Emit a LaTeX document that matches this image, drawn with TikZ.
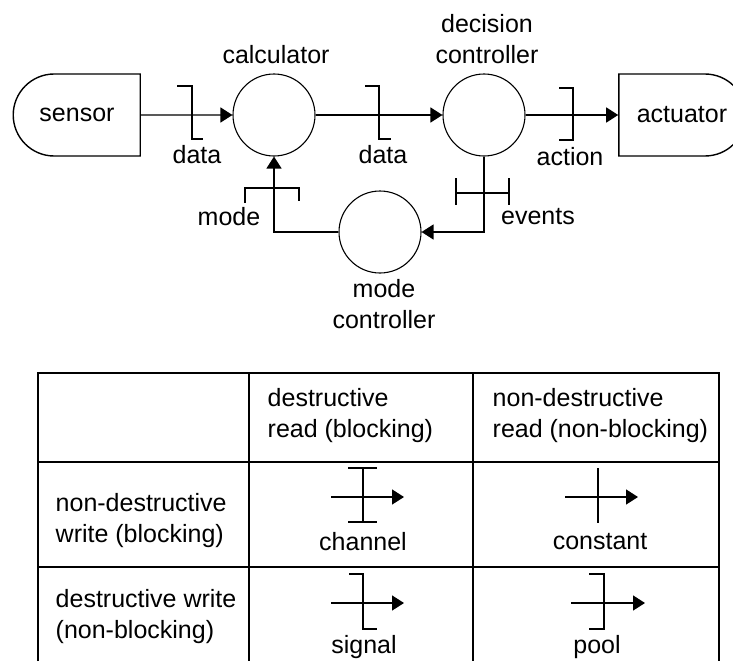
\documentclass[tikz,border=0pt]{standalone}
\usepackage{fontspec}
\setmainfont{Liberation Sans}
\usetikzlibrary{shapes.misc, arrows.meta, positioning, calc}

\begin{document}
\begin{tikzpicture}[x=1pt, y=-1pt,
                    line width=1.4pt,
                    font=\fontsize{25}{31}\selectfont,
                    process/.style={circle, draw, line width=1.1pt, minimum size=82pt, inner sep=0pt},
                    device/.style={rounded rectangle, draw, minimum height=82pt, minimum width=127pt, inner sep=0pt},
                    flow/.style={-{Triangle[length=12pt, width=15pt]}},
                    caption/.style={align=center, inner sep=0pt},
                    cell/.style={align=left, anchor=west, inner sep=0pt}]

    \useasboundingbox (0,0) rectangle (733,661);
    \clip (0,0) rectangle (733,661);

    % Main Nodes
    \node[device, rounded rectangle right arc=none] (sensor) at (77,115) {sensor};
    \node[process] (calculator) at (274,115) {};
    \node[process] (decision) at (484,115) {};
    \node[device, rounded rectangle left arc=none] (actuator) at (682,115) {actuator};
    \node[process] (mode) at (380,232) {};

    \node[caption] (calculatorlabel) at ($(calculator.north)+(2,-19)$) {calculator};
    \node[caption] (decisionlabel) at ($(decision.north)+(3,-34)$) {decision\\controller};
    \node[caption] (modelabel) at ($(mode.south)+(4,31)$) {mode\\controller};

    % Connecting lines
    \draw[flow] (sensor) -- (calculator);
    \draw[flow] (calculator) -- (decision);
    \draw[flow] (decision) -- (actuator);
    \draw[flow] (decision.south) |- (mode.east);
    \draw[flow] (mode.west) -| (calculator.south);

    % Marks on the connecting lines
    \coordinate (datamark1) at (192,115);
    \coordinate (datamark2) at (379,115);
    \coordinate (actionmark) at (573,115);
    \coordinate (modemark) at (273,188);
    \coordinate (eventsmark) at (483,193);

    \draw (datamark1) ++(-15,-29) -- ++(15,0) -- ++(0,53) -- ++(11,0);
    \draw (datamark2) ++(-14,-29) -- ++(14,0) -- ++(0,53) -- ++(12,0);
    \draw (actionmark) ++(-14,-27) -- ++(14,0) -- ++(0,52) -- ++(-14,0);
    \draw (modemark) ++(-28,15) -- ++(0,-15) -- ++(54,0) -- ++(0,13);
    \draw (eventsmark) ++(-27,0) -- ++(53,0);
    \draw (eventsmark) ++(-27,-15) -- ++(0,27);
    \draw (eventsmark) ++(26,-15) -- ++(0,27);

    \node[caption] (datatext1) at ($(datamark1)+(5,40)$) {data};
    \node[caption] (datatext2) at ($(datamark2)+(4,40)$) {data};
    \node[caption] (actiontext) at ($(actionmark)+(-3,42)$) {action};
    \node[caption] (modetext) at (229,217) {mode};
    \node[caption] (eventstext) at (538,217) {events};

    % Table
    \draw (38,661) -- (38,373) -- (719,373) -- (719,661);
    \draw (38,462) -- (719,462);
    \draw (38,567) -- (719,567);
    \draw (249,373) -- (249,661);
    \draw (473,373) -- (473,661);

    \node[cell] (head1) at (267,416) {destructive\\read (blocking)};
    \node[cell] (head2) at (492,416) {non-destructive\\read (non-blocking)};
    \node[cell] (row1) at (55,521) {non-destructive\\write (blocking)};
    \node[cell] (row2) at (55,617) {destructive write\\(non-blocking)};

    % channel
    \coordinate (chanfrom) at (331,497);
    \coordinate (chanto) at (404,497);
    \draw[flow] (chanfrom) -- (chanto);
    \draw (363,468) -- (363,522);
    \draw (348,468) -- (377,468);
    \draw (348,522) -- (377,522);
    \node[caption] (channel) at (363,542) {channel};

    % constant
    \coordinate (constfrom) at (565,497);
    \coordinate (constto) at (638,497);
    \draw[flow] (constfrom) -- (constto);
    \draw (598,468) -- (598,523);
    \node[caption] (constant) at (600,542) {constant};

    % signal
    \coordinate (signalfrom) at (331,603);
    \coordinate (signalto) at (404,603);
    \draw[flow] (signalfrom) -- (signalto);
    \draw (349,574) -- (363,574) -- (363,629) -- (377,629);
    \node[caption] (signal) at (364,647) {signal};

    % pool
    \coordinate (poolfrom) at (571,603);
    \coordinate (poolto) at (645,603);
    \draw[flow] (poolfrom) -- (poolto);
    \draw (589,574) -- (604,574) -- (604,629) -- (589,629);
    \node[caption] (pool) at (597,647) {pool};

\end{tikzpicture}
\end{document}
